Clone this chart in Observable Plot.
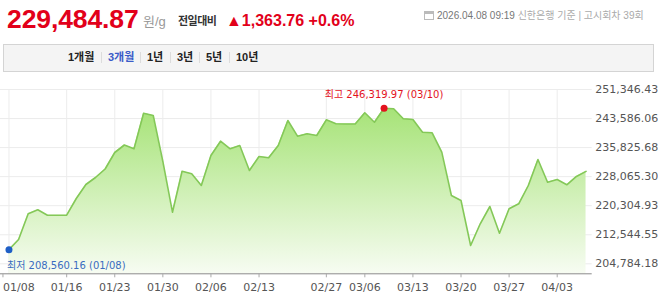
<!DOCTYPE html>
<html><head><meta charset="utf-8">
<script src="https://cdn.jsdelivr.net/npm/d3@7"></script>
<script src="https://cdn.jsdelivr.net/npm/@observablehq/plot@0.6"></script>
<style>
html,body{margin:0;padding:0;background:#fff}
body{width:658px;height:301px;overflow:hidden;position:relative;font-family:"Liberation Sans",Arial,"Noto Sans CJK KR",sans-serif}
.a{position:absolute;white-space:nowrap;line-height:1}
.price{left:7px;top:6px;font-size:26.5px;font-weight:bold;color:#e2001a;letter-spacing:-0.1px}
.unit{left:143px;top:15px;font-size:13px;color:#999}
.lbl{left:178px;top:16px;font-size:11px;color:#333;font-weight:bold;letter-spacing:-0.5px}
.chg{left:226px;top:13px;font-size:16px;color:#e2001a;font-weight:bold}
.meta{left:424px;top:11px;font-size:10px;color:#aaa}
.meta .dt{color:#777}
.ico{display:inline-block;width:10px;height:9px;border:1px solid #bbb;margin-right:3px;vertical-align:-1px;box-sizing:border-box;background:linear-gradient(#bbb 0 2px,#fff 2px)}
#tabs{position:absolute;left:3px;top:44px;width:651px;height:28px;background:#f4f4f4;border:1px solid #d4d4d4;box-sizing:border-box}
.tab{position:absolute;top:52px;font-size:11px;font-weight:bold;color:#222;line-height:1}
.tab.on{color:#3a5bc8}
.sep{position:absolute;top:52px;width:1px;height:11px;background:#dcdcdc}
#chart{position:absolute;left:0;top:76px}
</style>
</head><body>
<span class="a price">229,484.87</span>
<span class="a unit">원/g</span>
<span class="a lbl">전일대비</span>
<span class="a chg">▲1,363.76 +0.6%</span>
<span class="a meta"><span class="ico"></span><span class="dt">2026.04.08 09:19</span> 신한은행 기준 | 고시회차 39회</span>
<div id="tabs"></div>
<span class="tab" style="left:68px">1개월</span>
<span class="sep" style="left:101px"></span>
<span class="tab on" style="left:108px">3개월</span>
<span class="sep" style="left:140px"></span>
<span class="tab" style="left:147px">1년</span>
<span class="sep" style="left:170px"></span>
<span class="tab" style="left:177px">3년</span>
<span class="sep" style="left:199px"></span>
<span class="tab" style="left:206px">5년</span>
<span class="sep" style="left:229px"></span>
<span class="tab" style="left:236px">10년</span>
<div id="chart"></div>
<script>
const dates = ["01/08","01/09","01/12","01/13","01/14","01/15","01/16","01/19","01/20","01/21","01/22","01/23","01/26","01/27","01/28","01/29","01/30",
"02/02","02/03","02/04","02/05","02/06","02/09","02/10","02/11","02/12","02/13","02/19","02/20","02/23","02/24","02/25","02/26","02/27",
"03/03","03/04","03/05","03/06","03/09","03/10","03/11","03/12","03/13","03/16","03/17","03/18","03/19","03/20","03/23","03/24","03/25","03/26","03/27",
"03/30","03/31","04/01","04/02","04/03","04/06","04/07","04/08"];
const prices = [208560.16,211275,218141,219210,217767,217767,217767,222228,225968,227838,230109,234517,236520,235505,245015,244401,232113,
218568,229521,228827,225701,233715,237535,235505,236387,229708,233448,233101,236387,243065,238871,239512,239058,243252,
242184,242150,242130,245122,242611,246319.97,246191,243519,243332,239940,239779,234597,223030,221694,209673,215470,220091,212959,219477,
220812,225701,232647,226583,227304,225888,228121.11,229484.87];
const tickDates = ["01/08","01/16","01/23","01/30","02/06","02/13","02/27","03/06","03/13","03/20","03/27","04/03"];
const yTicks = [204784.18,212544.55,220304.93,228065.30,235825.68,243586.06,251346.43];
const lowDate = "01/08", lowValue = 208560.16, lowLabel = "최저 208,560.16 (01/08)";
const highDate = "03/10", highValue = 246319.97, highLabel = "최고 246,319.97 (03/10)";

const data = dates.map((d,i)=>({i, d, v: prices[i]}));
const idx = d => dates.indexOf(d);
const yMin = 202113, yMax = 254819;
const tickIdx = tickDates.map(idx);
const font = "DejaVu Sans, Noto Sans CJK KR, sans-serif";
const axisOpts = {tickFormat: i => dates[i], tickSize: 4, tickPadding: 5, fontSize: 11, color: "#555", stroke: "#aaa"};

const chart = Plot.plot({
  width: 658, height: 225,
  marginLeft: 0, marginRight: 66.3, marginTop: 0, marginBottom: 27.7,
  style: {fontFamily: font, background: "transparent"},
  x: {type: "linear", domain: [-0.88, 60.64]},
  y: {domain: [yMin, yMax]},
  marks: [
    Plot.ruleY(yTicks, {stroke: "#ececec"}),
    Plot.ruleX(tickIdx, {y1: yMin, y2: yTicks[yTicks.length-1], stroke: "#ececec"}),
    Plot.areaY(data, {x: "i", y1: yMin, y2: "v", fill: "url(#gfill)"}),
    Plot.lineY(data, {x: "i", y: "v", stroke: "#84c858", strokeWidth: 1.6}),
    Plot.ruleY([yMin], {stroke: "#8a8a8a"}),
    Plot.axisX({ticks: tickIdx.slice(1), ...axisOpts}),
    Plot.axisX({ticks: tickIdx.slice(0, 1), ...axisOpts, textAnchor: "start", dx: -6}),
    Plot.axisY({ticks: yTicks, tickFormat: d3.format(",.2f"), anchor: "right", tickSize: 0, tickPadding: 3, fontSize: 11, color: "#555", textAnchor: "start"}),
    Plot.dot([{x: idx(lowDate), y: lowValue}], {x: "x", y: "y", r: 3.5, fill: "#1f5fc6"}),
    Plot.dot([{x: idx(highDate), y: highValue}], {x: "x", y: "y", r: 3.5, fill: "#e3131e"}),
    Plot.text([{x: idx(highDate), y: highValue, t: highLabel}], {x: "x", y: "y", text: "t", dy: -14, fontSize: 10, fill: "#e3131e"}),
    Plot.text([{x: idx(lowDate), y: lowValue, t: lowLabel}], {x: "x", y: "y", text: "t", dy: 16, dx: -2, textAnchor: "start", fontSize: 10, fill: "#3a6cc0"})
  ]
});
const svg = d3.select(chart);
const defs = svg.insert("defs", ":first-child");
const g = defs.append("linearGradient").attr("id", "gfill").attr("x1", 0).attr("y1", 0).attr("x2", 0).attr("y2", 1);
g.append("stop").attr("offset", "0%").attr("stop-color", "#a6e377");
g.append("stop").attr("offset", "100%").attr("stop-color", "#f7fcf2");
document.getElementById("chart").appendChild(chart);
</script>
</body></html>
